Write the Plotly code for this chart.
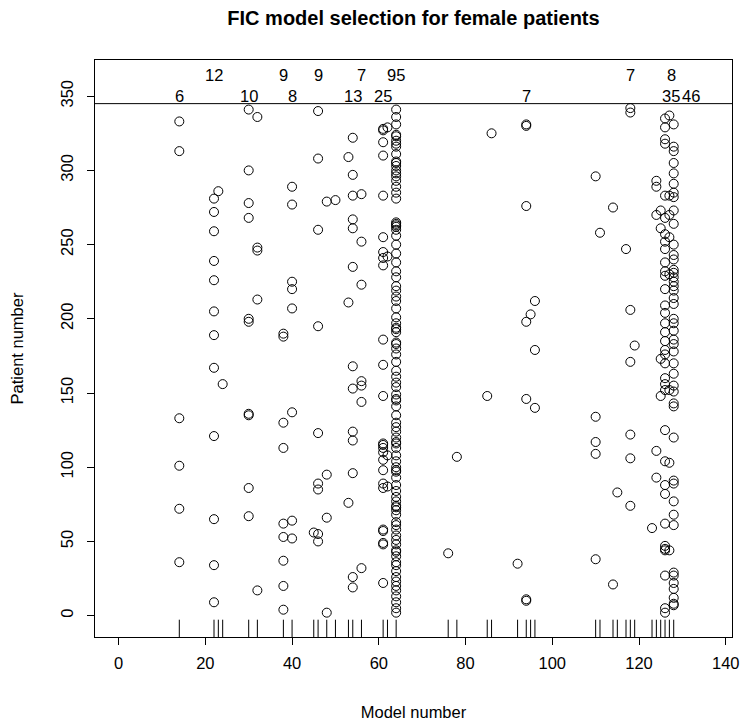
import plotly.graph_objects as go

# ---- data: patient numbers for which each model was selected ----
p14 = [333, 313, 133, 101, 72, 36]
p22 = [281, 272, 259, 239, 226, 205, 189, 167, 121, 65, 34, 9]
p23 = [286]
p24 = [156]
p30 = [341, 300, 278, 268, 200, 198, 136, 135, 86, 67]
p32 = [336, 248, 246, 213, 17]
p38 = [190, 188, 130, 113, 62, 53, 37, 20, 4]
p40 = [289, 277, 225, 220, 207, 137, 64, 52]
p45 = [56]
p46 = [340, 308, 260, 195, 123, 89, 85, 55, 50]
p48 = [279, 95, 66, 2]
p50 = [280]
p53 = [309, 211, 76]
p54 = [322, 297, 283, 267, 261, 235, 168, 153, 124, 118, 96, 26, 19]
p56 = [284, 252, 223, 158, 155, 144, 32]
p61 = [327, 319, 310, 283, 255, 245, 241, 236, 186, 169, 148, 116, 113, 110,
       105, 98, 89, 86, 58, 49, 22, 115, 57, 48, 328]
p62 = [329, 242, 108, 87]
p64 = [341, 336, 331, 324, 323, 320, 316, 311, 306, 305, 303, 300, 296, 293,
       289, 285, 265, 264, 263, 262, 260, 256, 250, 244, 238, 232, 228, 222,
       215, 212, 207, 201, 197, 194, 191, 184, 183, 180, 176, 171, 165, 161,
       157, 154, 149, 146, 145, 141, 135, 130, 124, 120, 117, 116, 113, 108,
       104, 100, 98, 97, 93, 88, 84, 80, 77, 74, 73, 68, 63, 58, 54, 48, 44,
       43, 40, 36, 30, 26, 23, 17, 13, 9, 5, 318, 298, 281, 193, 127, 71, 61,
       51, 34, 20, 2, 219]
p76 = [42]
p78 = [107]
p85 = [148]
p86 = [325]
p92 = [35]
p94 = [331, 330, 276, 198, 146, 11, 10]
p95 = [203]
p96 = [212, 179, 140]
p110 = [296, 134, 117, 109, 38]
p111 = [258]
p114 = [275, 21]
p115 = [83]
p117 = [247]
p118 = [342, 339, 206, 171, 122, 106, 74]
p119 = [182]
p123 = [59]
p124 = [293, 289, 270, 111, 93]
p125 = [273, 261, 173, 148]
p126 = [335, 329, 321, 318, 283, 268, 257, 252, 247, 238, 232, 229, 220, 209,
        204, 197, 191, 185, 179, 176, 170, 160, 156, 152, 125, 104, 88, 82,
        62, 47, 45, 27, 5, 2, 44]
p127 = [337, 283, 255, 230, 152, 103, 44, 270]
p128 = [331, 316, 313, 305, 298, 291, 285, 282, 273, 264, 250, 243, 240, 233,
        231, 228, 225, 222, 219, 214, 210, 200, 197, 192, 186, 183, 178, 170,
        163, 155, 151, 143, 141, 120, 91, 89, 77, 68, 61, 29, 27, 22, 18, 12,
        8, 7]

model_ids = [14, 22, 23, 24, 30, 32, 38, 40, 45, 46, 48, 50, 53, 54, 56, 61, 62,
             64, 76, 78, 85, 86, 92, 94, 95, 96, 110, 111, 114, 115, 117, 118,
             119, 123, 124, 125, 126, 127, 128]
model_pts = [p14, p22, p23, p24, p30, p32, p38, p40, p45, p46, p48, p50, p53,
             p54, p56, p61, p62, p64, p76, p78, p85, p86, p92, p94, p95, p96,
             p110, p111, p114, p115, p117, p118, p119, p123, p124, p125, p126,
             p127, p128]

# count labels (models selected most often), two alternating rows
lab_row1_x = [22, 38, 46, 56, 64, 118, 127.6]
lab_row1_t = ["12", "9", "9", "7", "95", "7", "8"]
lab_row2_x = [14, 30, 40, 54, 61, 94, 127.3, 131.9]
lab_row2_t = ["6", "10", "8", "13", "25", "7", "35", "46"]
row1_y = 364
row2_y = 350
n_line = 345

x_ticks = [0, 20, 40, 60, 80, 100, 120, 140]
y_ticks = [0, 50, 100, 150, 200, 250, 300, 350]
x_range = [-5.44, 141.44]
y_range = [-14.4, 374.4]

xs, ys = [], []
for m, pts in zip(model_ids, model_pts):
    for p in pts:
        xs.append(m)
        ys.append(p)

FONT = "Liberation Sans, Arial, Helvetica, sans-serif"
FS = 16.5
fig = go.Figure()
fig.add_trace(go.Scatter(
    x=xs, y=ys, mode="markers",
    marker=dict(symbol="circle-open", size=9, color="black",
                line=dict(width=1, color="black")),
    hoverinfo="x+y", showlegend=False))

# rug along the bottom
rug_h = 0.03 * (y_range[1] - y_range[0])
shapes = []
for m in model_ids:
    shapes.append(dict(type="line", xref="x", yref="y", x0=m, x1=m,
                       y0=y_range[0], y1=y_range[0] + rug_h,
                       line=dict(color="black", width=1)))
shapes.append(dict(type="line", xref="paper", yref="y", x0=0, x1=1,
                   y0=n_line, y1=n_line, line=dict(color="black", width=1)))
fig.update_layout(shapes=shapes)

for xv, t in zip(lab_row1_x, lab_row1_t):
    fig.add_annotation(x=xv, y=row1_y, text=t, showarrow=False,
                       font=dict(family=FONT, size=FS, color="black"))
for xv, t in zip(lab_row2_x, lab_row2_t):
    fig.add_annotation(x=xv, y=row2_y, text=t, showarrow=False,
                       font=dict(family=FONT, size=FS, color="black"))

fig.update_layout(
    width=752, height=724,
    margin=dict(l=95, r=20, t=60, b=87),
    paper_bgcolor="white", plot_bgcolor="white",
    font=dict(family=FONT, size=FS, color="black"),
    title=dict(text="<b>FIC model selection for female patients</b>",
               x=413.5 / 752, xanchor="center", y=1 - 18 / 724,
               yanchor="middle", font=dict(family=FONT, size=20, color="black")),
    xaxis=dict(range=x_range, tickvals=x_ticks, ticks="outside", ticklen=7,
               tickcolor="black", showline=True, linecolor="black",
               linewidth=1, mirror=True, showgrid=False, zeroline=False,
               ticklabelstandoff=4, automargin=False,
               title=dict(text="Model number", standoff=35,
                          font=dict(family=FONT, size=FS))),
    yaxis=dict(range=y_range, tickvals=y_ticks, ticks="outside", ticklen=7,
               tickcolor="black", showline=True, linecolor="black",
               linewidth=1, mirror=True, showgrid=False, zeroline=False,
               tickangle=-90, ticklabelstandoff=7, automargin=False,
               title=dict(text="Patient number", standoff=30,
                          font=dict(family=FONT, size=FS))),
)
fig.write_html("out.html")
